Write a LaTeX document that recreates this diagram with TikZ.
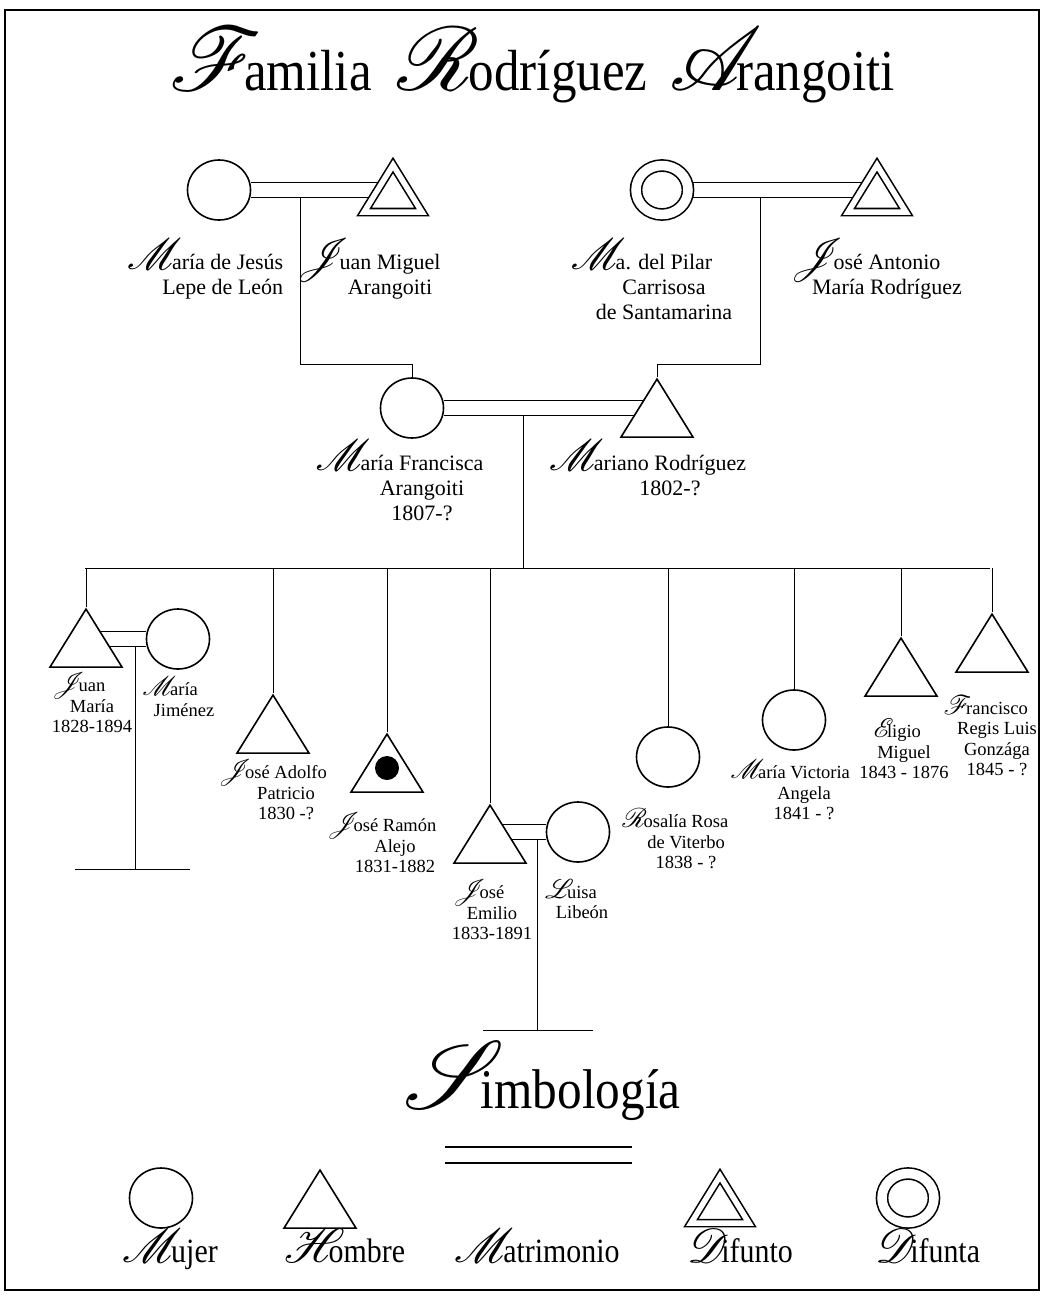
\documentclass[tikz,border=0pt]{standalone}
\usepackage{fontspec}
\setmainfont{Liberation Serif}
\newfontfamily\headfont[FakeStretch=0.88]{Liberation Serif}
\usetikzlibrary{shapes.geometric,backgrounds}
% swash capitals
\DeclareFontFamily{U}{rsfs}{\skewchar\font127 }
\DeclareFontShape{U}{rsfs}{m}{n}{<-> rsfs10}{}
\newcommand\swash[2]{{\fontsize{#1}{#1}\usefont{U}{rsfs}{m}{n}#2\kern-\dimexpr#1pt*6/100\relax}}
\newcommand\ini[2][44]{\llap{\smash{\swash{#1}{#2}}}}
\begin{document}
\begin{tikzpicture}[x=1pt, y=-1pt, line width=1.6pt,
    woman/.style={ellipse, draw, fill=white, minimum width=63pt, minimum height=60pt, inner sep=0pt},
    deadwoman/.style={woman, double, double distance=9.5pt, minimum width=52pt, minimum height=49pt},
    man/.style={isosceles triangle, isosceles triangle stretches, shape border rotate=90, draw, fill=white,
        inner sep=0pt, minimum width=72pt, minimum height=58pt, anchor=apex},
    deadman/.style={man, double, double distance=5.5pt, minimum width=58pt, minimum height=47pt},
    wed/.style={double, double distance=14.5pt},
    blackdot/.style={circle, fill=black, minimum size=24pt, inner sep=0pt},
    gentext/.style={align=center, anchor=north, inner sep=0pt, font=\fontsize{22}{25}\selectfont},
    kidtext/.style={align=center, anchor=north, inner sep=0pt, font=\fontsize{18.5}{20.5}\selectfont},
    symtext/.style={anchor=base, inner sep=0pt, font=\headfont\fontsize{34}{34}\selectfont}]
    \useasboundingbox (0,0) rectangle (1044,1296);
    \draw (5,10) rectangle (1039,1290);

    % Title
    \node[anchor=base, inner sep=0pt, font=\headfont\fontsize{58}{58}\selectfont] (title) at (532,90)
        {\swash{90}{F}amilia\hspace{26pt}\swash{90}{R}odríguez\hspace{22pt}\swash{90}{A}rangoiti};

    % Grandparents
    \node[woman] (mjesus) at (219,190) {};
    \node[deadman] (jmiguel) at (393,163) {};
    \node[deadwoman] (mpilar) at (662,190) {};
    \node[deadman] (jantonio) at (877,163) {};

    \node[gentext, anchor=north east, align=right] (t-mjesus) at (284,253) {\ini{M}aría de Jesús\\Lepe de León};
    \node[gentext] (t-jmiguel) at (390,253) {\ini{J}uan Miguel\\Arangoiti};
    \node[gentext] (t-mpilar) at (664,253) {\ini{M}a. del Pilar\\Carrisosa\\de Santamarina};
    \node[gentext] (t-jantonio) at (887,253) {\ini{J}osé Antonio\\María Rodríguez};

    % Parents
    \node[woman] (mfran) at (412,408) {};
    \node[man] (mariano) at (657,377) {};

    \node[gentext] (t-mfran) at (422,454) {\ini{M}aría Francisca\\Arangoiti\\1807-?};
    \node[gentext] (t-mariano) at (670,454) {\ini{M}ariano Rodríguez\\1802-?};

    % Children
    \coordinate (bar-l) at (85,568);
    \coordinate (bar-r) at (990,568);
    \node[man] (juanm) at (86,607) {};
    \node[woman] (mjim) at (178,639) {};
    \node[man] (adolfo) at (273,693) {};
    \node[man] (ramon) at (387,732) {};
    \node[blackdot] (ramon-dot) at (387,768) {};
    \node[man] (emilio) at (490,803) {};
    \node[woman] (luisa) at (578,832) {};
    \node[woman] (rosalia) at (668,757) {};
    \node[woman] (victoria) at (794,720) {};
    \node[man] (eligio) at (901,636) {};
    \node[man] (francisco) at (992,612) {};

    \node[kidtext] (t-juanm) at (92,682) {\ini[27]{J}uan\\María\\1828-1894};
    \node[kidtext] (t-mjim) at (184,682) {\ini[27]{M}aría\\Jiménez};
    \node[kidtext] (t-adolfo) at (286,765) {\ini[27]{J}osé Adolfo\\Patricio\\1830 -?};
    \node[kidtext] (t-ramon) at (395,818) {\ini[27]{J}osé Ramón\\Alejo\\1831-1882};
    \node[kidtext] (t-emilio) at (492,885) {\ini[27]{J}osé\\Emilio\\1833-1891};
    \node[kidtext] (t-luisa) at (582,885) {\ini[27]{L}uisa\\Libeón};
    \node[kidtext] (t-rosalia) at (686,814) {\ini[27]{R}osalía Rosa\\de Viterbo\\1838 - ?};
    \node[kidtext] (t-victoria) at (804,765) {\ini[27]{M}aría Victoria\\Angela\\1841 - ?};
    \node[kidtext] (t-eligio) at (904,724) {\ini[27]{E}ligio\\Miguel\\1843 - 1876};
    \node[kidtext] (t-francisco) at (997,701) {\ini[27]{F}rancisco\\Regis Luis\\Gonzága\\1845 - ?};

    % Connections
    \begin{scope}[on background layer]
        \draw[wed] (mjesus) -- (mjesus -| jmiguel.apex);
        \draw[wed] (mpilar) -- (mpilar -| jantonio.apex);
        \draw (mjesus.center) ++(81,8) -- ++(0,166) -| (mfran.north);
        \draw (mpilar.center) ++(98,8) -- ++(0,166) -| (mariano.north);

        \draw[wed] (mfran) -- (mfran -| mariano.apex);
        \draw (mfran.center) ++(111,8) -- ++(0,152);
        \draw (bar-l) -- (bar-r);
        \foreach \k in {juanm,adolfo,ramon,emilio,rosalia,victoria,eligio,francisco}
            \draw (\k.north |- bar-l) -- (\k.north);

        \draw[wed] (mjim) -- (mjim -| juanm.north);
        \draw (mjim.center) ++(-43,8) -- ++(0,222) coordinate (jm-end);
        \draw (jm-end) ++(-60,0) -- ++(115,0);

        \draw[wed] (luisa) -- (luisa -| emilio.north);
        \draw (luisa.center) ++(-41,8) -- ++(0,190) coordinate (je-end);
        \draw (je-end) ++(-54,0) -- ++(110,0);
    \end{scope}

    % Simbologia
    \node[anchor=base, inner sep=0pt, font=\headfont\fontsize{56}{56}\selectfont] (simb) at (542,1108)
        {\swash{96}{S}imbología};
    \node[woman] (l-woman) at (161,1198) {};
    \node[man] (l-man) at (320,1168) {};
    \coordinate (l-wed-a) at (445,1155);
    \coordinate (l-wed-b) at (632,1155);
    \draw[wed] (l-wed-a) -- (l-wed-b);
    \node[deadman] (l-dman) at (720,1174) {};
    \node[deadwoman] (l-dwoman) at (908,1198) {};

    \node[symtext] (t-woman) at (170,1262) {\swash{48}{M}ujer};
    \node[symtext] (t-man) at (345,1262) {\swash{48}{H}ombre};
    \node[symtext] (t-wed) at (537,1262) {\swash{48}{M}atrimonio};
    \node[symtext] (t-dman) at (740,1262) {\swash{48}{D}ifunto};
    \node[symtext] (t-dwoman) at (928,1262) {\swash{48}{D}ifunta};
\end{tikzpicture}
\end{document}
